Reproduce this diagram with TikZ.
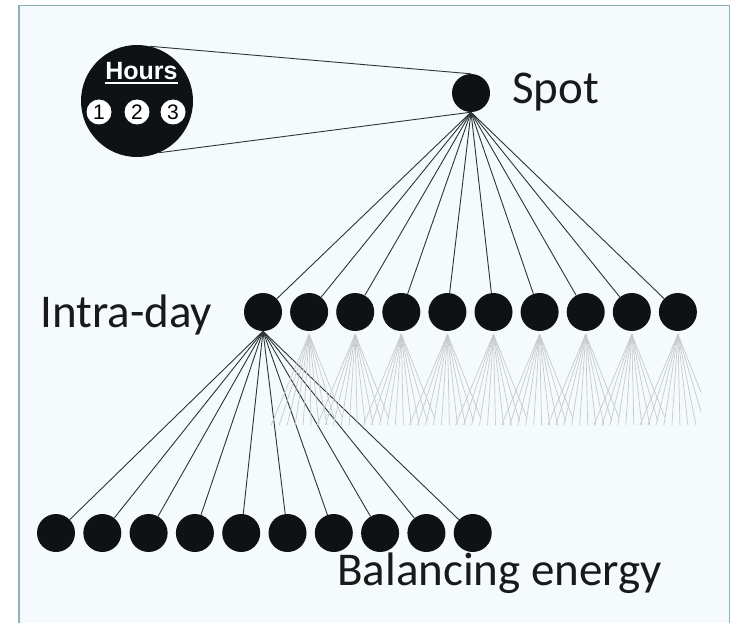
\documentclass[tikz,border=0pt]{standalone}
\usepackage{fontspec}
\setmainfont{Carlito}
\newfontfamily\arialfont{Liberation Sans}
\usetikzlibrary{calc}
\definecolor{bgfill}{HTML}{F5FAFD}
\definecolor{framecol}{HTML}{8DB1BB}
\definecolor{dot}{HTML}{0E1214}
\definecolor{wire}{HTML}{2E3436}
\definecolor{ghost}{HTML}{C6CACC}
\begin{document}
\begin{tikzpicture}[x=1pt,y=-1pt,
  market/.style={circle,fill=dot,minimum size=38pt,inner sep=0pt},
  link/.style={wire,line width=0.9pt},
  faint/.style={ghost,line width=0.7pt},
  tier/.style={font=\fontsize{47}{56}\selectfont,text=black!90,anchor=base west,inner sep=0pt},
  hourdot/.style={circle,fill=white,minimum size=25pt,inner sep=0pt,
    font=\arialfont\fontsize{21}{21}\selectfont,text=black}]

% page and panel
\fill[white] (0,0) rectangle (733,623);
\useasboundingbox (0,0) rectangle (733,623);
\fill[bgfill] (19,5.5) rectangle (729.5,630);
\draw[framecol,line width=1.5pt] (19,630) -- (19,5.5) -- (729.5,5.5) -- (729.5,630);

% spot market and its hourly products
\node[market] (spot) at (471,93) {};
\node[circle,fill=dot,minimum size=112pt,inner sep=0pt] (hours) at (137,101) {};
\node[font=\arialfont\bfseries\fontsize{25}{25}\selectfont,text=white,anchor=base,inner sep=0pt]
  (hrs) at (141.5,80) {Hours};
\draw[white,line width=2pt] ($(hrs.base west)+(0,3.5)$) -- ($(hrs.base east)+(0,3.5)$);
\node[hourdot] (h1) at (99,112) {1};
\node[hourdot] (h2) at (137,112) {2};
\node[hourdot] (h3) at (173,112) {3};
\draw[link] (hours.77) -- (spot.north);
\draw[link] (hours.-67) -- (spot.south);

% intra-day products
\foreach \i in {1,...,10}
  \node[market] (n\i) at ({263+46.1*(\i-1)},312) {};
\foreach \i in {1,...,10}
  \draw[link] (spot.south) -- (n\i);

% balancing energy products of the first intra-day product
\foreach \i in {1,...,10}
  \node[market] (b\i) at ({56+46.3*(\i-1)},533) {};
\foreach \i in {1,...,10}
  \draw[link] (n1.south) -- (b\i);

% the same branching for the other intra-day products, faded
\begin{scope}
  \clip (19,320) rectangle (701,440);
  \foreach \k in {2,...,10}
    \foreach \d/\e in {-38/425,-30/425,-22/425,-14/425,-6/425,2/425,10/425,18/425,26/421,33/417}
      \draw[faint] ($(n\k.south)+(0,3)$) -- ($(n\k.south)+(\d,\e-331)$);
\end{scope}

% tier labels
\node[tier] (spotlbl) at (512,104) {Spot};
\node[tier] (idlbl) at (40,327) {Intra-day};
\node[tier] (ballbl) at (337,585) {Balancing energy};
\end{tikzpicture}
\end{document}
